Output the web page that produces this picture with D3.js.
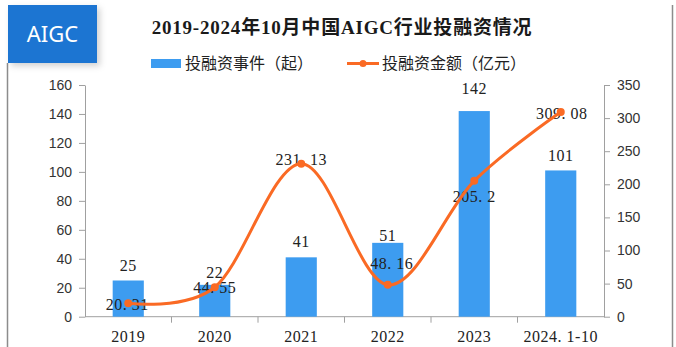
<!DOCTYPE html>
<html><head><meta charset="utf-8">
<script src="https://cdn.jsdelivr.net/npm/d3@7"></script>
<style>body{margin:0;background:#fff;}svg{display:block;}</style>
</head><body>
<svg id="c" width="676" height="347"></svg>
<script>
const categories = ["2019","2020","2021","2022","2023","2024.1-10"];
const events = [25,22,41,51,142,101];
const amounts = [20.31,44.55,231.13,48.16,205.2,309.08];
const amountLabels = ["20.31","44.55","231.13","48.16","205.2","309.08"];
const leftTicks = [0,20,40,60,80,100,120,140,160];
const rightTicks = [0,50,100,150,200,250,300,350];
const barLabelDy = [-15.5,-12,-15.5,-7,-23,-15.5];
const lineLabelDx = [-1,0,0,4,0,1];
const lineLabelDy = [1,0,-4,-21,16,1];

const svg = d3.select("#c");
const W = 676, H = 347;
const m = {l:85, r:604, t:85, b:316.7};
const serif = "'Liberation Serif','DejaVu Serif',serif";
const sans = "'Liberation Sans',Arial,sans-serif";
const cjk = "'Noto Sans CJK SC','Noto Sans',sans-serif";

const defs = svg.append("defs");
const f = defs.append("filter").attr("id","sh").attr("x","-20%").attr("y","-20%").attr("width","160%").attr("height","160%");
f.append("feDropShadow").attr("dx",3).attr("dy",3).attr("stdDeviation",3).attr("flood-color","#000").attr("flood-opacity",0.18);

svg.append("line").attr("x1",7.5).attr("x2",7.5).attr("y1",63).attr("y2",H).attr("stroke","#8c8c8c").attr("stroke-width",1.5);
svg.append("line").attr("x1",672.5).attr("x2",672.5).attr("y1",5).attr("y2",H).attr("stroke","#8c8c8c").attr("stroke-width",1.5);

svg.append("rect").attr("x",8).attr("y",5).attr("width",89).attr("height",58).attr("fill","#1f74d2").attr("filter","url(#sh)");
svg.append("text").attr("x",52.5).attr("y",42).attr("text-anchor","middle").attr("fill","#fff")
  .style("font-family","'Noto Sans','Open Sans',sans-serif").style("font-size","22px").text("AIGC");

svg.append("text").attr("x",342).attr("y",34).attr("text-anchor","middle").attr("fill","#1a1a1a")
  .style("font-family",serif+",'Noto Sans CJK SC'").style("font-weight","bold").style("font-size","19px")
  .style("letter-spacing","0.8px")
  .text("2019-2024年10月中国AIGC行业投融资情况");

svg.append("rect").attr("x",151).attr("y",59).attr("width",30).attr("height",9).attr("fill","#3d9cf0");
svg.append("text").attr("x",185).attr("y",68.5).attr("fill","#222").style("font-family",cjk).style("font-size","16px").text("投融资事件（起）");
svg.append("line").attr("x1",347).attr("x2",379).attr("y1",63.5).attr("y2",63.5).attr("stroke","#fa6a24").attr("stroke-width",3);
svg.append("circle").attr("cx",363).attr("cy",63.5).attr("r",3.5).attr("fill","#fa6a24");
svg.append("text").attr("x",382).attr("y",68.5).attr("fill","#222").style("font-family",cjk).style("font-size","16px").text("投融资金额（亿元）");

const x = d3.scaleBand().domain(categories).range([m.l,m.r]).padding(0);
const yL = d3.scaleLinear().domain([0,160]).range([m.b,m.t]);
const yR = d3.scaleLinear().domain([0,350]).range([m.b,m.t]);

const axisColor = "#a0a0a0";
function styleAxis(g){
  g.selectAll("path,line").attr("stroke",axisColor);
  g.selectAll("text").attr("fill","#333").style("font-family",sans).style("font-size","14px");
}
svg.append("g").attr("transform",`translate(${m.l},0)`)
  .call(d3.axisLeft(yL).tickValues(leftTicks).tickSize(6).tickSizeOuter(0).tickPadding(7))
  .call(styleAxis);
svg.append("g").attr("transform",`translate(${m.r},0)`)
  .call(d3.axisRight(yR).tickValues(rightTicks).tickSize(6).tickSizeOuter(0).tickPadding(7))
  .call(styleAxis);

const xg = svg.append("g").attr("transform",`translate(0,${m.b})`);
xg.append("line").attr("x1",m.l).attr("x2",m.r).attr("stroke",axisColor);
xg.selectAll("line.t").data(categories.slice(1)).join("line").attr("class","t")
  .attr("x1",d=>x(d)).attr("x2",d=>x(d)).attr("y1",0).attr("y2",6).attr("stroke",axisColor);
xg.selectAll("text").data(categories).join("text")
  .attr("x",d=>x(d)+x.bandwidth()/2).attr("y",25).attr("text-anchor","middle")
  .attr("fill","#222").style("font-family",serif).style("font-size","16px").style("letter-spacing","0.5px")
  .text(d=>d.replace(".",". "));

const bw = x.bandwidth()*0.36;
svg.selectAll("rect.bar").data(events).join("rect").attr("class","bar")
  .attr("x",(d,i)=>x(categories[i])+x.bandwidth()/2-bw/2)
  .attr("y",d=>yL(d)).attr("width",bw).attr("height",d=>m.b-yL(d))
  .attr("fill","#3d9cf0");
svg.selectAll("text.bl").data(events).join("text").attr("class","bl")
  .attr("x",(d,i)=>x(categories[i])+x.bandwidth()/2).attr("y",(d,i)=>yL(d)+barLabelDy[i])
  .attr("dy","0.35em").attr("text-anchor","middle").attr("fill","#222")
  .style("font-family",serif).style("font-size","16px").style("letter-spacing","0.5px").text(d=>d);

const pts = amounts.map((v,i)=>[x(categories[i])+x.bandwidth()/2, yR(v)]);
svg.selectAll("text.ll").data(pts).join("text").attr("class","ll")
  .attr("x",(d,i)=>d[0]+lineLabelDx[i]).attr("y",(d,i)=>d[1]+lineLabelDy[i])
  .attr("dy","0.35em").attr("text-anchor","middle").attr("fill","#222")
  .style("font-family",serif).style("font-size","16px").style("letter-spacing","0.5px")
  .text((d,i)=>amountLabels[i].replace(".",". "));
svg.append("path").datum(pts).attr("d",d3.line().curve(d3.curveCardinal.tension(0)))
  .attr("fill","none").attr("stroke","#fa6a24").attr("stroke-width",3);
svg.selectAll("circle.pt").data(pts).join("circle").attr("class","pt")
  .attr("cx",d=>d[0]).attr("cy",d=>d[1]).attr("r",4).attr("fill","#fa6a24");
</script>
</body></html>
